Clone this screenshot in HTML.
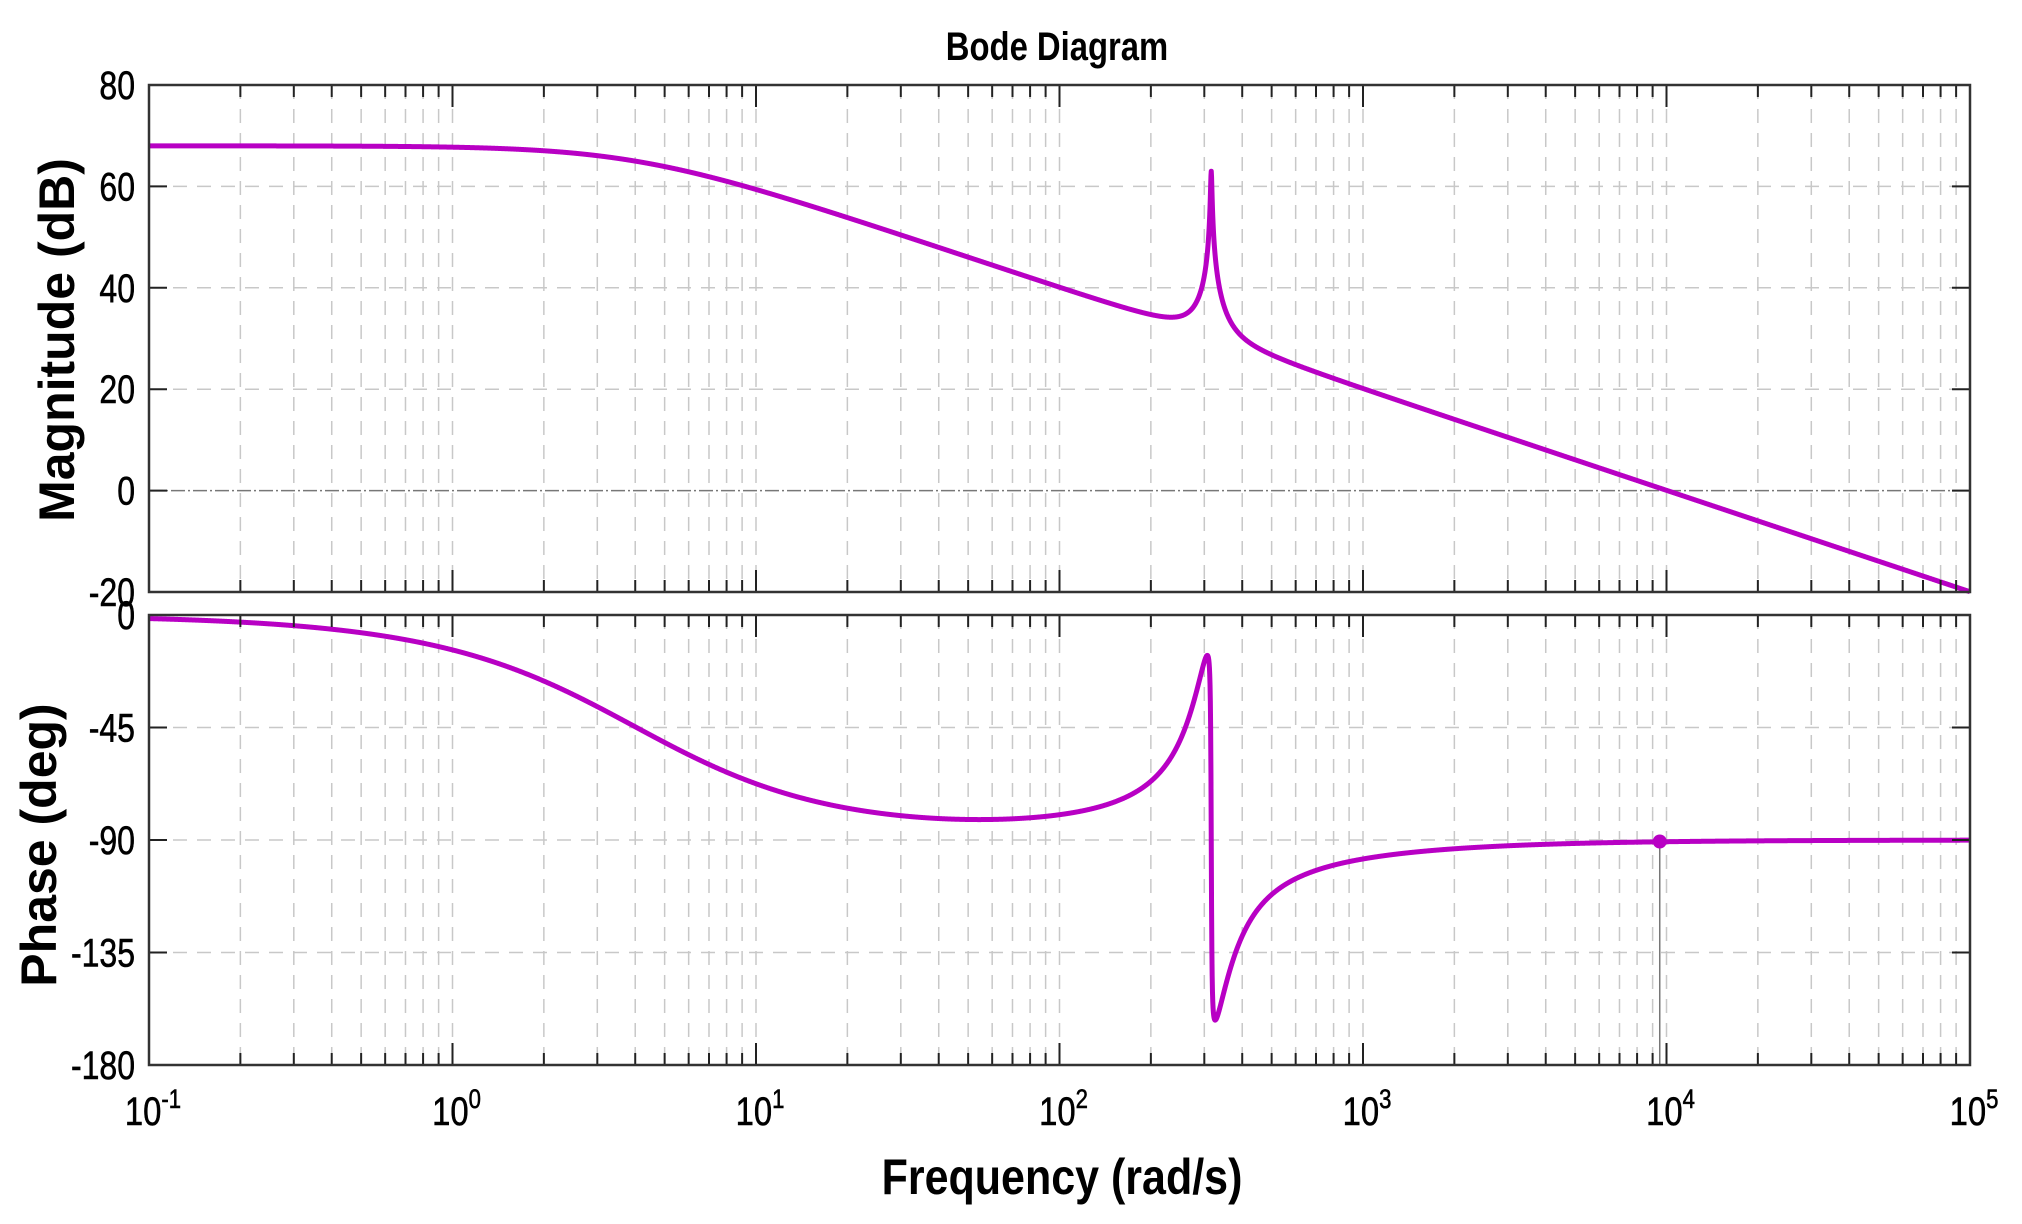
<!DOCTYPE html>
<html><head><meta charset="utf-8"><style>
html,body{margin:0;padding:0;background:#fff;width:2022px;height:1224px;overflow:hidden}
svg text{font-family:"Liberation Sans",Arial,sans-serif}
</style></head><body>
<svg id="s" width="2022" height="1224" xmlns="http://www.w3.org/2000/svg">
<g id="grid"></g>
<g id="curves"></g>
<g id="axes"></g>
<g id="labels" fill="#000">
<text class="n" data-k="0.82" x="1057" y="60" font-size="40" font-weight="bold" text-anchor="middle">Bode Diagram</text>
<text transform="translate(74,340) rotate(-90)" font-size="50" font-weight="bold" text-anchor="middle">Magnitude (dB)</text>
<text transform="translate(56,845) rotate(-90)" font-size="50" font-weight="bold" text-anchor="middle">Phase (deg)</text>
<text class="n" data-k="0.86" x="1062" y="1194" font-size="50" font-weight="bold" text-anchor="middle">Frequency  (rad/s)</text>
</g>
</svg>
<script>
var X0=149,X1=1970,DEC=(X1-X0)/6;
var MT=85,MB=592,PT=615,PB=1065;
function xf(w){return X0+(Math.log10(w)+1)*DEC;}
function ym(d){return MT+(80-d)*(MB-MT)/100;}
function yp(p){return PT+(-p)*(PB-PT)/180;}
var ns="http://www.w3.org/2000/svg";
function el(parent,tag,attrs,txt){var e=document.createElementNS(ns,tag);for(var k in attrs)e.setAttribute(k,attrs[k]);if(txt!==undefined)e.textContent=txt;document.getElementById(parent).appendChild(e);return e;}
for(var d=-1;d<5;d++){for(var m=1;m<10;m++){var x=xf(m*Math.pow(10,d));if(x<=X0+1)continue;
 el("grid","line",{x1:x,x2:x,y1:MT,y2:MB,stroke:"#c8c8c8","stroke-width":1.5,"stroke-dasharray":"14,10"});
 el("grid","line",{x1:x,x2:x,y1:PT,y2:PB,stroke:"#c8c8c8","stroke-width":1.5,"stroke-dasharray":"14,10"});
 var L=(m==1)?22:12;
 [MT,PT].forEach(function(y){el("axes","line",{x1:x,x2:x,y1:y,y2:y+L,stroke:"#222","stroke-width":2});});
 [MB,PB].forEach(function(y){el("axes","line",{x1:x,x2:x,y1:y,y2:y-L,stroke:"#222","stroke-width":2});});
}}
[80,60,40,20,0,-20].forEach(function(v){var y=ym(v);
 if(v<80&&v>-20)el("grid","line",{x1:X0,x2:X1,y1:y,y2:y,stroke:v==0?"#777":"#c8c8c8","stroke-width":1.5,"stroke-dasharray":v==0?"14,3,2,3":"14,10"});
 el("axes","line",{x1:X0,x2:X0+18,y1:y,y2:y,stroke:"#222","stroke-width":2});
 el("axes","line",{x1:X1,x2:X1-18,y1:y,y2:y,stroke:"#222","stroke-width":2});
 el("labels","text",{"class":"n","data-k":"0.8",x:135,y:y+14,"font-size":40,"text-anchor":"end",stroke:"#000","stroke-width":0.6},String(v));
});
[0,-45,-90,-135,-180].forEach(function(v){var y=yp(v);
 if(v<0&&v>-180)el("grid","line",{x1:X0,x2:X1,y1:y,y2:y,stroke:"#c8c8c8","stroke-width":1.5,"stroke-dasharray":"14,10"});
 el("axes","line",{x1:X0,x2:X0+18,y1:y,y2:y,stroke:"#222","stroke-width":2});
 el("axes","line",{x1:X1,x2:X1-18,y1:y,y2:y,stroke:"#222","stroke-width":2});
 el("labels","text",{"class":"n","data-k":"0.8",x:135,y:y+14,"font-size":40,"text-anchor":"end",stroke:"#000","stroke-width":0.6},String(v));
});
el("axes","rect",{x:X0,y:MT,width:X1-X0,height:MB-MT,fill:"none",stroke:"#333","stroke-width":2.5});
el("axes","rect",{x:X0,y:PT,width:X1-X0,height:PB-PT,fill:"none",stroke:"#333","stroke-width":2.5});
for(var d=-1;d<=5;d++){var t=el("labels","text",{"class":"n","data-k":"0.82",x:xf(Math.pow(10,d))+4,y:1125,"font-size":40,"text-anchor":"middle",stroke:"#000","stroke-width":0.6},"10");
 var s=document.createElementNS(ns,"tspan");s.setAttribute("dy","-17");s.setAttribute("font-size","27");s.textContent=String(d);t.appendChild(s);}
document.querySelectorAll("text.n").forEach(function(t){var k=parseFloat(t.getAttribute("data-k"));var L=t.getComputedTextLength();if(L>0){t.setAttribute("textLength",(L*k).toFixed(1));t.setAttribute("lengthAdjust","spacingAndGlyphs");}});
var K=Math.pow(10,68/20),p=4,wz=316,zz=0.2,wp=316.2,zp=0.0045;
var pm="",pp="";
for(var i=0;i<=6000;i++){var lw=-1+6*i/6000,w=Math.pow(10,lw);
 var re1=1,im1=w/p;
 var rz=1-(w/wz)*(w/wz),iz=2*zz*w/wz;
 var rp=1-(w/wp)*(w/wp),ip=2*zp*w/wp;
 var mag=K*Math.hypot(rz,iz)/(Math.hypot(re1,im1)*Math.hypot(rp,ip));
 var ph=(-Math.atan2(im1,re1)+Math.atan2(iz,rz)-Math.atan2(ip,rp))*180/Math.PI;
 var db=20*Math.log10(mag),x=xf(w);
 pm+=(i?"L":"M")+x.toFixed(2)+","+Math.min(ym(db),MB).toFixed(2);
 pp+=(i?"L":"M")+x.toFixed(2)+","+yp(ph).toFixed(2);
}
el("curves","path",{d:pm,fill:"none",stroke:"#b800c4","stroke-width":5,"stroke-linejoin":"round"});
el("curves","path",{d:pp,fill:"none",stroke:"#b800c4","stroke-width":5,"stroke-linejoin":"round"});
var xd=xf(9500);
el("curves","line",{x1:xd,x2:xd,y1:yp(-90.5),y2:PB,stroke:"#777","stroke-width":1.5});
el("curves","circle",{cx:xd,cy:yp(-90.6),r:7,fill:"#b800c4"});
</script>
</body></html>
